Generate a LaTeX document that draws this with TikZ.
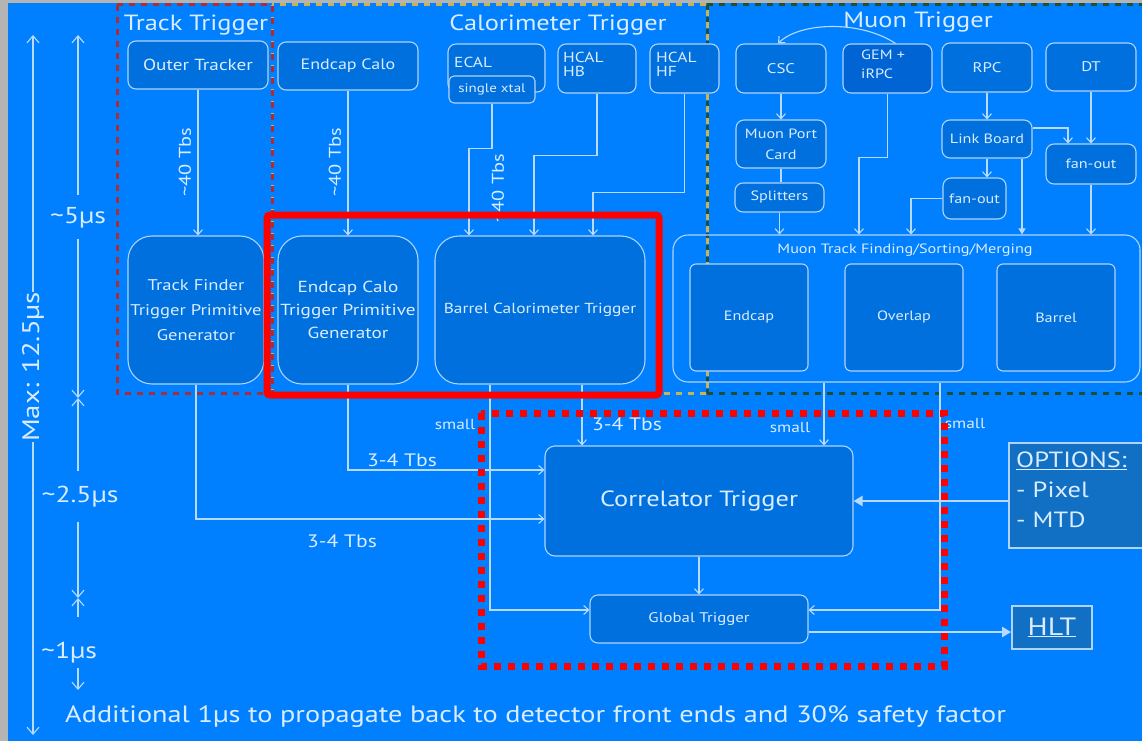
\documentclass[tikz,border=0pt]{standalone}
\usepackage{fontspec}
\setmainfont[FakeStretch=1.2]{PT Sans}
\usetikzlibrary{arrows.meta}
\definecolor{bgblue}{RGB}{0,128,255}
\definecolor{margin}{RGB}{180,180,180}
\definecolor{boxfill}{RGB}{0,112,222}
\definecolor{darkfill}{RGB}{0,100,212}
\definecolor{optfill}{RGB}{18,112,196}
\definecolor{edge}{RGB}{175,212,255}
\definecolor{lin}{RGB}{185,218,255}
\definecolor{txt}{RGB}{218,236,255}
\definecolor{trackred}{RGB}{170,45,55}
\definecolor{caloyel}{RGB}{200,178,90}
\definecolor{muongreen}{RGB}{30,80,50}
\definecolor{hired}{RGB}{255,0,0}
\tikzset{
  fs/.style={font=\fontsize{#1}{#1}\selectfont},
  box/.style={draw=edge, line width=1.1pt, fill=boxfill, rounded corners=8pt, text=txt, fs=13, align=center, inner sep=2pt},
  bigbox/.style={box, rounded corners=24pt},
  optbox/.style={draw=edge, line width=1.8pt, fill=optfill, text=txt, fs=24, inner sep=3pt},
  con/.style={draw=lin, line width=1.1pt},
  arr/.style={con, -{Straight Barb[length=5pt,width=9pt]}},
  fatarr/.style={draw=lin, line width=2pt, -{Triangle[length=9pt,width=10pt]}},
  tarr/.style={draw=lin, line width=1.1pt, -{Straight Barb[length=7pt,width=12pt]}},
  lab/.style={text=txt, fs=18, inner sep=0pt},
  small/.style={text=txt, fs=14.5, inner sep=0pt},
  grouplab/.style={text=txt, fs=22, inner sep=0pt},
  tlab/.style={text=txt, fs=23, inner sep=0pt},
  grp/.style={line width=3pt, dash pattern=on 6pt off 6pt},
}
\begin{document}
\begin{tikzpicture}[x=1pt,y=-1pt]
\useasboundingbox (0,0) rectangle (1142,741);
\fill[margin] (0,0) rectangle (1142,741);
\fill[bgblue] (8,3) rectangle (1142,741);

% group frames
\draw[grp, draw=muongreen] (707,5) -- (1150,5);
\draw[grp, draw=muongreen] (707,393) -- (1150,393);
\draw[grp, draw=muongreen] (707,5) -- (707,393);
\draw[grp, draw=caloyel] (272,5) rectangle (707,393);
\draw[grp, draw=trackred] (117,5) rectangle (272,393);
\node[grouplab] (ttl) at (196,25) {Track Trigger};
\node[grouplab] (ctl) at (558,25) {Calorimeter Trigger};
\node[grouplab] (mtl) at (918,22) {Muon Trigger};

% top row
\node[box, fs=16, minimum width=140pt, minimum height=48pt] (outer) at (198,65) {Outer Tracker};
\node[box, fs=15, minimum width=140pt, minimum height=48pt] (ecalo) at (348,66) {Endcap Calo};
\node[box, minimum width=97pt, minimum height=48pt] (ecal) at (496.5,68) {};
\node[small, anchor=west] (ecaltxt) at (454,62) {ECAL};
\node[box, rounded corners=5pt, minimum width=86pt, minimum height=27pt, fs=12.5] (xtal) at (492,89.5) {single xtal};
\node[box, minimum width=78pt, minimum height=49pt] (hb) at (597,68.5) {};
\node[small, anchor=north west, align=left, font=\fontsize{14.5}{14}\selectfont] (hbtxt) at (563,52) {HCAL\\HB};
\node[box, minimum width=69pt, minimum height=49pt] (hf) at (684.5,68.5) {};
\node[small, anchor=north west, align=left, font=\fontsize{14.5}{14}\selectfont] (hftxt) at (656,52) {HCAL\\HF};
\node[box, fs=14, minimum width=90pt, minimum height=49pt] (csc) at (781,68.5) {CSC};
\node[box, fill=darkfill, minimum width=89pt, minimum height=49pt] (gem) at (887.5,68.5) {};
\node[small, anchor=north west, align=left, font=\fontsize{13.5}{19}\selectfont] (gemtxt) at (861,50) {GEM +\\iRPC};
\node[box, fs=14, minimum width=90pt, minimum height=49pt] (rpc) at (987,67.5) {RPC};
\node[box, fs=14, minimum width=90pt, minimum height=48pt] (dt) at (1091,67) {DT};

% muon middle
\node[box, minimum width=90pt, minimum height=48pt, font=\fontsize{13.5}{21}\selectfont] (mpc) at (781,144) {Muon Port\\Card};
\node[box, fs=13.5, minimum width=89pt, minimum height=29pt] (spl) at (779.5,197.5) {Splitters};
\node[box, fs=13.5, minimum width=90pt, minimum height=38pt] (lb) at (987,139) {Link Board};
\node[box, fs=13.5, minimum width=90pt, minimum height=40pt] (fo2) at (1091,164) {fan-out};
\node[box, fs=13.5, minimum width=63pt, minimum height=41pt] (fo1) at (974.5,198.5) {fan-out};

% muon track finding
\node[box, fill=none, rounded corners=15pt, minimum width=467pt, minimum height=147pt] (mtf) at (906.5,308.5) {};
\node[small, fs=13.5] (mtftxt) at (905,250) {Muon Track Finding/Sorting/Merging};
\node[box, fs=13.5, rounded corners=6pt, minimum width=118pt, minimum height=107pt] (mec) at (749,317.5) {Endcap};
\node[box, fs=13.5, rounded corners=6pt, minimum width=118pt, minimum height=107pt] (mov) at (904,317.5) {Overlap};
\node[box, fs=13.5, rounded corners=6pt, minimum width=118pt, minimum height=107pt] (mba) at (1056,317.5) {Barrel};

% TPG row
\node[bigbox, minimum width=136pt, minimum height=148pt, font=\fontsize{15.5}{25}\selectfont] (tf) at (196,310) {Track Finder\\Trigger Primitive\\Generator};
\node[bigbox, minimum width=140pt, minimum height=148pt, font=\fontsize{16}{23}\selectfont] (ectpg) at (348,310) {Endcap Calo\\Trigger Primitive\\Generator};
\node[bigbox, minimum width=210pt, minimum height=148pt, fs=14.5] (bct) at (540,310) {Barrel Calorimeter Trigger};

% lower
\node[box, rounded corners=10pt, minimum width=308pt, minimum height=110pt, fs=22] (corr) at (699,501) {Correlator Trigger};
\node[box, fs=14, minimum width=218pt, minimum height=48pt] (gt) at (699,619) {Global Trigger};
\node[optbox, minimum width=141pt, minimum height=105pt] (opt) at (1079.5,495.5) {};
\node[text=txt, anchor=north west, align=left, inner sep=0pt, font=\fontsize{22}{30}\selectfont] (opttxt) at (1016,452) {\underline{OPTIONS:}\\- Pixel\\- MTD};
\node[optbox, fs=25, minimum width=80pt, minimum height=43pt] (hlt) at (1052,627.5) {\underline{HLT}};

% connectors top
\draw[arr] (outer.south) -- (outer.south |- tf.north);
\draw[arr] (ecalo.south) -- (ecalo.south |- ectpg.north);
\draw[arr] (xtal.south) -- ++(0,45) -| ([xshift=-71pt]bct.north);
\draw[arr] (hb.south) -- ++(0,62) -| ([xshift=-6pt]bct.north);
\draw[arr] (hf.south) -- ++(0,99) -| ([xshift=53pt]bct.north);
\node[lab, fs=17, rotate=90] (l40a) at (185,162) {\textasciitilde40 Tbs};
\node[lab, fs=17, rotate=90] (l40b) at (335,162) {\textasciitilde40 Tbs};
\node[lab, fs=17, rotate=90] (l40c) at (498,188) {\textasciitilde40 Tbs};

\draw[arr] (csc.south) -- (csc.south |- mpc.north);
\draw[con] (mpc.south) -- (mpc.south |- spl.north);
\draw[arr] (spl.south) -- (spl.south |- mtf.north);
\draw[arr] (gem.south) -- ++(0,64) -| ([xshift=-47.5pt]mtf.north);
\draw[arr] ([xshift=8pt]gem.north) .. controls (860,20) and (800,22) .. ([xshift=-3pt]csc.north);
\draw[arr] (rpc.south) -- (rpc.south |- lb.north);
\draw[arr] (lb.south) -- (lb.south |- fo1.north);
\draw[arr] ([yshift=11pt]lb.east) -| ([xshift=-23pt]fo2.north);
\draw[arr] (dt.south) -- (dt.south |- fo2.north);
\draw[arr] (fo1.west) -| ([xshift=4.5pt]mtf.north);
\draw[con, -{Triangle[length=6pt,width=7pt]}] ([xshift=35pt]lb.south) -- ([xshift=35pt]lb.south |- mtf.north);
\draw[arr] (fo2.south) -- (fo2.south |- mtf.north);

% connectors bottom
\draw[arr] (tf.south) |- ([yshift=-18pt]corr.west);
\draw[arr] (ectpg.south) |- ([yshift=31pt]corr.west);
\draw[arr] ([xshift=-50pt]bct.south) |- ([yshift=9pt]gt.west);
\draw[arr] ([xshift=42pt]bct.south) -- ([xshift=42pt]bct.south |- corr.north);
\draw[arr] ([xshift=-82.5pt]mtf.south) -- ([xshift=-82.5pt]mtf.south |- corr.north);
\draw[arr] ([xshift=33.5pt]mtf.south) |- ([yshift=9pt]gt.east);
\draw[fatarr] (opt.west |- corr.east) -- (corr.east);
\draw[arr] (corr.south) -- (gt.north);
\draw[fatarr] ([yshift=-4.5pt]gt.east |- hlt.west) -- ([yshift=-4.5pt]hlt.west);
\node[lab] (l34a) at (342,541) {3-4 Tbs};
\node[lab] (l34b) at (402,460) {3-4 Tbs};
\node[lab] (l34c) at (627,424) {3-4 Tbs};
\node[small] (sm1) at (455,425) {small};
\node[small] (sm2) at (790,428) {small};
\node[small] (sm3) at (965,424) {small};

% highlight frames
\draw[hired, line width=7pt, rounded corners=3pt] (267,215) rectangle (659,395);
\draw[hired, line width=7pt, dash pattern=on 7pt off 7pt] (481,413) rectangle (944,666);

% timing column
\node[tlab, fs=24, rotate=90] (tmax) at (33,367) {Max: 12.5µs};
\draw[tarr] (tmax.east) -- (33,35);
\draw[tarr] (tmax.west) -- (33,735);
\node[tlab] (t5) at (78,218) {\textasciitilde5µs};
\draw[tarr] ([yshift=12pt]t5.north) -- (78,35);
\draw[tarr] ([yshift=-10pt]t5.south) -- (78,398);
\node[tlab] (t25) at (80,497) {\textasciitilde2.5µs};
\draw[tarr] ([xshift=-2pt,yshift=15pt]t25.north) -- (78,398);
\draw[tarr] ([xshift=-2pt,yshift=-14pt]t25.south) -- (78,598);
\node[tlab] (t1) at (69,653) {\textasciitilde1µs};
\draw[tarr] ([xshift=9pt,yshift=25pt]t1.north) -- (78,598);
\draw[tarr] ([xshift=9pt,yshift=-4pt]t1.south) -- (78,690);
\node[text=txt, fs=23.6, anchor=west, inner sep=0pt] (foot) at (65,717) {Additional 1µs to propagate back to detector front ends and 30\% safety factor};
\end{tikzpicture}
\end{document}
